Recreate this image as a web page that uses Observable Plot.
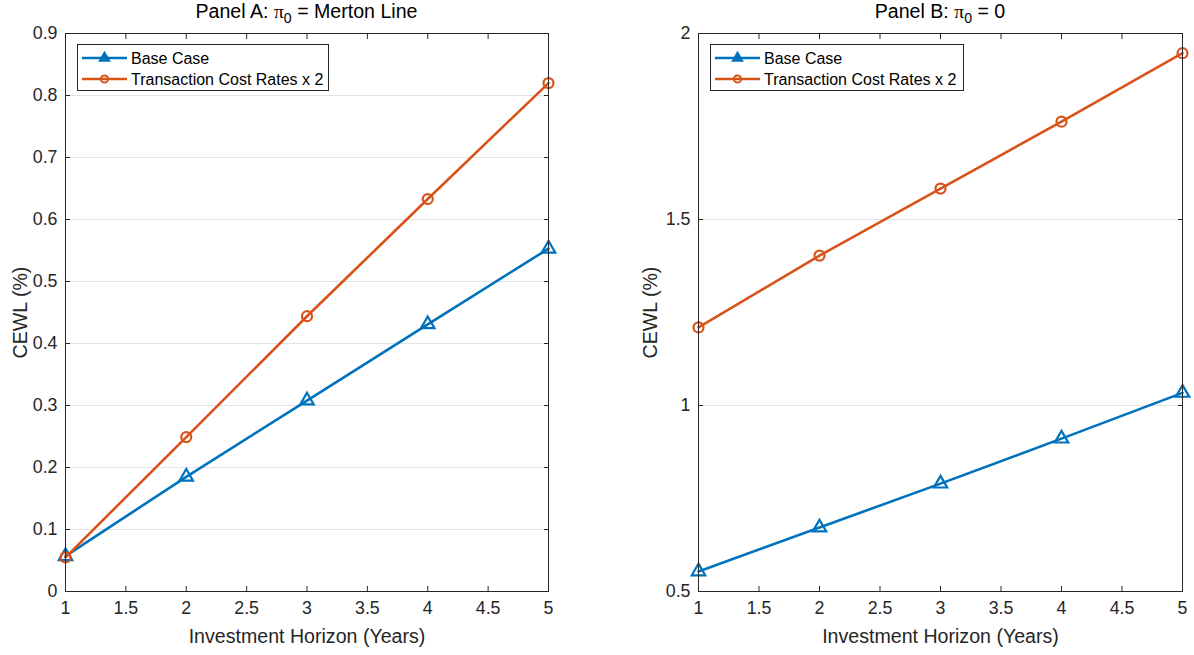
<!DOCTYPE html>
<html>
<head>
<meta charset="utf-8">
<script src="https://cdn.jsdelivr.net/npm/d3@7"></script>
<script src="https://cdn.jsdelivr.net/npm/@observablehq/plot@0.6"></script>
<style>
  html, body { margin: 0; padding: 0; background: #fff; }
  body { font-family: "Liberation Sans", Arial, Helvetica, sans-serif; }
  #wrap { position: relative; width: 1194px; height: 655px; overflow: hidden; }
  .panel { position: absolute; top: 0; width: 597px; height: 655px; }
  .title { position: absolute; top: 1px; font-size: 19.6px; line-height: 20px; color: #000;
           white-space: nowrap; transform: translateX(-50%); }
  .title .pi { font-family: "Liberation Serif", "DejaVu Serif", serif; }
  .title sub { font-size: 72%; vertical-align: -0.38em; line-height: 0; }
  .legend { position: absolute; top: 44px; }
</style>
</head>
<body>
<div id="wrap"></div>
<script>
// ---- data ----
const years = [1, 2, 3, 4, 5];
const seriesNames = ["Base Case", "Transaction Cost Rates x 2"];
const panelABase = [0.057, 0.185, 0.308, 0.431, 0.553];
const panelATc2  = [0.055, 0.249, 0.444, 0.633, 0.820];
const panelBBase = [0.554, 0.672, 0.790, 0.911, 1.034];
const panelBTc2  = [1.210, 1.403, 1.583, 1.763, 1.947];
const xTicks = [1, 1.5, 2, 2.5, 3, 3.5, 4, 4.5, 5];
const yTicksA = [0, 0.1, 0.2, 0.3, 0.4, 0.5, 0.6, 0.7, 0.8, 0.9];
const yTicksB = [0.5, 1, 1.5, 2];
const xLabel = "Investment Horizon (Years)";
const yLabel = "CEWL (%)";
const titleA = ["Panel A: ", "π", "0", " = Merton Line"];
const titleB = ["Panel B: ", "π", "0", " = 0"];

// ---- styles ----
const colors = ["#0072BD", "#D95319"];
const axisColor = "#262626";
const W = 597, H = 655;

function makePanel({base, tc2, yDomain, yTicks, marginLeft, marginRight, yLabelOffset}) {
  const baseData = years.map((x, i) => ({x, y: base[i]}));
  const tcData = years.map((x, i) => ({x, y: tc2[i]}));
  const svg = Plot.plot({
    width: W, height: H,
    marginTop: 33, marginBottom: 64, marginLeft, marginRight,
    style: {fontFamily: '"Liberation Sans", Arial, Helvetica, sans-serif', fontSize: "17.8px",
            color: axisColor, background: "transparent", overflow: "visible"},
    x: {domain: [1, 5]},
    y: {domain: yDomain},
    marks: [
      Plot.gridY(yTicks, {stroke: "#e3e3e3", strokeOpacity: 1, strokeWidth: 1}),
      Plot.line(baseData, {x: "x", y: "y", stroke: colors[0], strokeWidth: 2.6}),
      Plot.dot(baseData, {x: "x", y: "y", symbol: "triangle", r: 5.0, stroke: colors[0], strokeWidth: 2.2, fill: "none"}),
      Plot.line(tcData, {x: "x", y: "y", stroke: colors[1], strokeWidth: 2.6}),
      Plot.dot(tcData, {x: "x", y: "y", symbol: "circle", r: 5.0, stroke: colors[1], strokeWidth: 2.2, fill: "none"}),
      Plot.frame({stroke: axisColor, strokeWidth: 1}),
      Plot.axisX(xTicks, {anchor: "bottom", tickSize: -5, tickPadding: 15, tickFormat: d => String(d),
        stroke: axisColor, label: xLabel, labelAnchor: "center", labelOffset: 51, labelArrow: "none"}),
      Plot.axisX(xTicks, {anchor: "top", tickSize: -5, tickFormat: () => "", stroke: axisColor, label: null}),
      Plot.axisY(yTicks, {anchor: "left", tickSize: -5, tickPadding: 13, tickFormat: d => String(d),
        stroke: axisColor, label: yLabel, labelAnchor: "center", labelOffset: yLabelOffset, labelArrow: "none"}),
      Plot.axisY(yTicks, {anchor: "right", tickSize: -5, tickFormat: () => "", stroke: axisColor, label: null})
    ]
  });
  d3.select(svg).selectAll('g[aria-label$="axis label"]').attr("font-size", "19.6px");
  return svg;
}

function makeLegend(left, width) {
  const h = 47;
  const svg = d3.create("svg").attr("width", width).attr("height", h)
    .attr("class", "legend").style("left", left + "px");
  svg.append("rect").attr("x", 0.5).attr("y", 0.5).attr("width", width - 1).attr("height", h - 1)
    .attr("fill", "#fff").attr("stroke", axisColor).attr("stroke-width", 1);
  const rows = [14, 35];
  seriesNames.forEach((name, i) => {
    const g = svg.append("g").attr("transform", `translate(0,${rows[i]})`);
    g.append("line").attr("x1", 5).attr("x2", 50).attr("y1", 0).attr("y2", 0)
      .attr("stroke", colors[i]).attr("stroke-width", 2.6);
    if (i === 0) {
      g.append("path").attr("d", d3.symbol(d3.symbolTriangle, 40)())
        .attr("transform", "translate(27.5,0)")
        .attr("fill", colors[0]).attr("stroke", colors[0]).attr("stroke-width", 1.8);
    } else {
      g.append("circle").attr("cx", 27.5).attr("cy", 0).attr("r", 3.6)
        .attr("fill", "none").attr("stroke", colors[1]).attr("stroke-width", 2);
    }
    g.append("text").attr("x", 54).attr("y", 0).attr("dy", "0.35em")
      .attr("font-family", '"Liberation Sans", Arial, Helvetica, sans-serif')
      .attr("font-size", "16px").attr("fill", "#000").text(name);
  });
  return svg.node();
}

function makeTitle(parts, center) {
  const div = document.createElement("div");
  div.className = "title";
  div.style.left = center + "px";
  const a = document.createElement("span"); a.textContent = parts[0];
  const pi = document.createElement("span"); pi.className = "pi"; pi.textContent = parts[1];
  const sub = document.createElement("sub"); sub.textContent = parts[2];
  const b = document.createElement("span"); b.textContent = parts[3];
  div.append(a, pi, sub, b);
  return div;
}

const wrap = document.getElementById("wrap");

const pa = document.createElement("div"); pa.className = "panel"; pa.style.left = "0px";
pa.appendChild(makePanel({base: panelABase, tc2: panelATc2, yDomain: [0, 0.9], yTicks: yTicksA,
  marginLeft: 65, marginRight: 49, yLabelOffset: 52}));
pa.appendChild(makeLegend(77, 252));
pa.appendChild(makeTitle(titleA, 306.5));
wrap.appendChild(pa);

const pb = document.createElement("div"); pb.className = "panel"; pb.style.left = "597px";
pb.appendChild(makePanel({base: panelBBase, tc2: panelBTc2, yDomain: [0.5, 2], yTicks: yTicksB,
  marginLeft: 101, marginRight: 12, yLabelOffset: 55}));
pb.appendChild(makeLegend(113, 254));
pb.appendChild(makeTitle(titleB, 343));
wrap.appendChild(pb);
</script>
</body>
</html>
